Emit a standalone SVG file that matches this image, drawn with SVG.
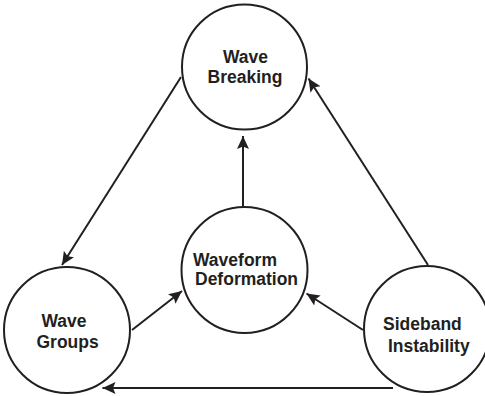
<svg xmlns="http://www.w3.org/2000/svg" width="485" height="396" viewBox="0 0 485 396">
<style>
.node{fill:#fff;stroke:#231f20;stroke-width:2}
.lbl{font-family:"Liberation Sans",Arial,sans-serif;font-weight:bold;font-size:17.5px;fill:#231f20}
.edge{stroke:#231f20;stroke-width:2;fill:none;marker-end:url(#ah)}
</style>
<defs>
<marker id="ah" markerUnits="userSpaceOnUse" markerWidth="14" markerHeight="14" viewBox="0 0 14 14" refX="13" refY="7" orient="auto">
<path d="M0,1 L13,7 L0,13 L2.5,7 Z" fill="#231f20"/>
</marker>
</defs>
<rect width="485" height="396" fill="#fff"/>
<g id="connectors">
<line class="edge" x1="181" y1="77" x2="62" y2="265"/>
<line class="edge" x1="428" y1="265" x2="308.5" y2="78.5"/>
<line class="edge" x1="243" y1="206" x2="243" y2="136"/>
<line class="edge" x1="132" y1="330" x2="182" y2="291"/>
<line class="edge" x1="363" y1="330" x2="306.5" y2="293.5"/>
<line class="edge" x1="393" y1="388" x2="102.5" y2="388"/>
</g>
<g id="wave-breaking">
<circle class="node" cx="244.5" cy="67" r="62.5"/>
<text class="lbl" x="245.5" y="63" text-anchor="middle">Wave</text>
<text class="lbl" x="245" y="83" text-anchor="middle">Breaking</text>
</g>
<g id="waveform-deformation">
<circle class="node" cx="244.5" cy="270" r="63"/>
<text class="lbl" x="193" y="266">Waveform</text>
<text class="lbl" x="195" y="285">Deformation</text>
</g>
<g id="wave-groups">
<circle class="node" cx="67" cy="330" r="63"/>
<text class="lbl" x="41.5" y="327">Wave</text>
<text class="lbl" x="36.5" y="348">Groups</text>
</g>
<g id="sideband-instability">
<circle class="node" cx="427" cy="329" r="63"/>
<text class="lbl" x="383" y="330">Sideband</text>
<text class="lbl" x="388" y="352">Instability</text>
</g>
</svg>
